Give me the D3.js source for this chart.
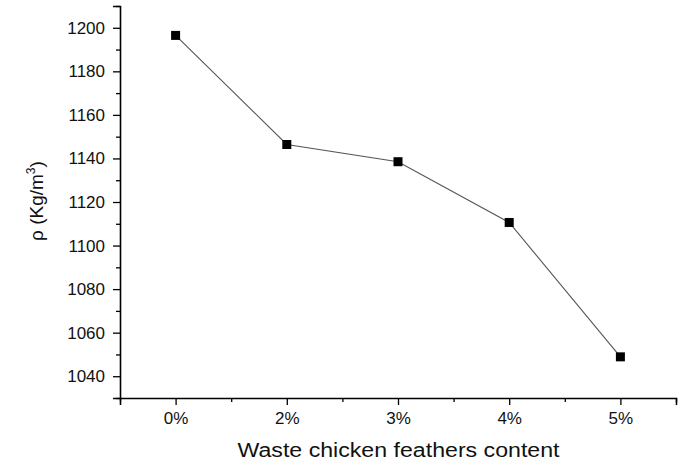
<!DOCTYPE html>
<html>
<head>
<meta charset="utf-8">
<script src="https://cdn.jsdelivr.net/npm/d3@7/dist/d3.min.js"></script>
<style>
  html, body { margin: 0; padding: 0; background: #fff; }
  svg { display: block; }
  text { font-family: Arial, "Liberation Sans", Helvetica, sans-serif; fill: #111; }
</style>
</head>
<body>
<svg id="chart" width="684" height="464"></svg>
<script>
// ---- data ----
const categories = ["0%", "2%", "3%", "4%", "5%"];
const densityValues = [1196.5, 1146.4, 1138.5, 1110.6, 1048.9];
const yTickValues = [1040, 1060, 1080, 1100, 1120, 1140, 1160, 1180, 1200];
const yMinorTickValues = [1030, 1050, 1070, 1090, 1110, 1130, 1150, 1170, 1190, 1210];
const xLabel = "Waste chicken feathers content";

// ---- layout ----
const svg = d3.select("#chart");
const plotL = 120, plotR = 676, plotT = 6, plotB = 398;

const x = d3.scaleLinear().domain([-0.5, categories.length - 0.5]).range([plotL, plotR]);
const y = d3.scaleLinear().domain([1030, 1210]).range([plotB, plotT]);

// minor ticks
const xMinor = d3.range(-0.5, categories.length, 1);

const gx = svg.append("g").attr("transform", `translate(0,${plotB})`);
gx.call(d3.axisBottom(x).tickValues(xMinor).tickSize(4).tickFormat(""))
  .call(g => g.select(".domain").remove())
  .call(g => g.selectAll("line").attr("stroke", "#000").attr("stroke-width", 1.3));
const gx2 = svg.append("g").attr("transform", `translate(0,${plotB})`);
gx2.call(d3.axisBottom(x).tickValues(d3.range(categories.length)).tickSize(7).tickPadding(7)
      .tickFormat(i => categories[i]))
  .call(g => g.select(".domain").attr("stroke", "#000").attr("stroke-width", 1.6))
  .call(g => g.selectAll("line").attr("stroke", "#000").attr("stroke-width", 1.3))
  .call(g => g.selectAll("text").attr("font-size", 17).attr("fill", "#111")
      .attr("font-family", "Arial, 'Liberation Sans', sans-serif"));

const gy = svg.append("g").attr("transform", `translate(${plotL},0)`);
gy.call(d3.axisLeft(y).tickValues(yMinorTickValues).tickSize(4).tickFormat(""))
  .call(g => g.select(".domain").remove())
  .call(g => g.selectAll("line").attr("stroke", "#000").attr("stroke-width", 1.3));
const gy2 = svg.append("g").attr("transform", `translate(${plotL},0)`);
gy2.call(d3.axisLeft(y).tickValues(yTickValues).tickSize(7).tickPadding(8).tickFormat(d3.format("d")))
  .call(g => g.select(".domain").attr("stroke", "#000").attr("stroke-width", 1.6))
  .call(g => g.selectAll("line").attr("stroke", "#000").attr("stroke-width", 1.3))
  .call(g => g.selectAll("text").attr("font-size", 17).attr("fill", "#111")
      .attr("font-family", "Arial, 'Liberation Sans', sans-serif"));

// line
const line = d3.line().x((d, i) => x(i)).y(d => y(d));
svg.append("path").datum(densityValues)
  .attr("d", line).attr("fill", "none").attr("stroke", "#555").attr("stroke-width", 1.1);

// markers
const ms = 9;
svg.selectAll("rect.pt").data(densityValues).enter().append("rect")
  .attr("class", "pt")
  .attr("x", (d, i) => x(i) - ms / 2)
  .attr("y", d => y(d) - ms / 2)
  .attr("width", ms).attr("height", ms)
  .attr("fill", "#000");

// x label
svg.append("text")
  .attr("x", 398.5).attr("y", 457)
  .attr("text-anchor", "middle")
  .attr("font-size", 20)
  .attr("textLength", 322).attr("lengthAdjust", "spacingAndGlyphs")
  .text(xLabel);

// y label
const yl = svg.append("text")
  .attr("transform", "translate(43,201) rotate(-90)")
  .attr("text-anchor", "middle")
  .attr("font-size", 19);
yl.append("tspan").text("ρ (Kg/m");
yl.append("tspan").attr("font-size", 12).attr("dy", -8).text("3");
yl.append("tspan").attr("dy", 8).text(")");
</script>
</body>
</html>
